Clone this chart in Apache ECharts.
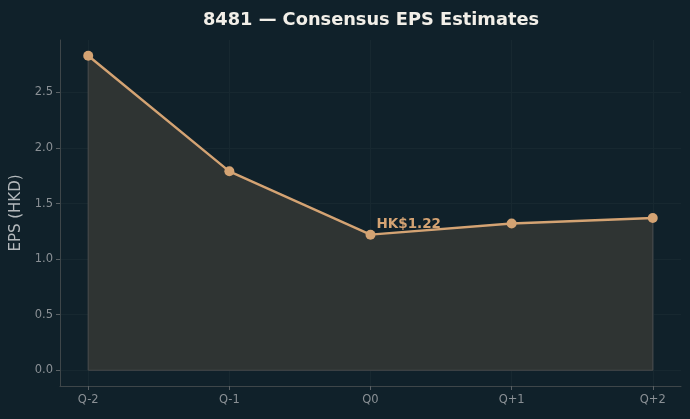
<!DOCTYPE html>
<html><head><meta charset="utf-8">
<script src="https://cdn.jsdelivr.net/npm/echarts@6/dist/echarts.min.js"></script>
<style>html,body{margin:0;padding:0;background:#10212a;}#c{width:690px;height:419px;}</style>
</head><body><div id="c"></div>
<script>
const categories = ['Q-2','Q-1','Q0','Q+1','Q+2'];
const eps = [2.83, 1.79, 1.22, 1.32, 1.37];
const yTicks = [0, 0.5, 1.0, 1.5, 2.0, 2.5];
const annotateIndex = 2;
const titleText = '8481 \u2014 Consensus EPS Estimates';
const yName = 'EPS (HKD)';

const xIdx = categories.map((c, i) => i);
const pts = eps.map((v, i) => [i, v]);
const outline = [[0, 0]].concat(pts).concat([[categories.length - 1, 0], [0, 0]]);
const yMax = Math.max(...eps);
const pad = yMax * 0.05;
const font = 'DejaVu Sans';

const chart = echarts.init(document.getElementById('c'), null, {renderer: 'canvas'});
chart.setOption({
  backgroundColor: '#10212a',
  animation: false,
  title: {
    text: titleText, left: 366, top: 6, textAlign: 'center',
    textStyle: {color: '#f2efe8', fontFamily: font, fontWeight: 'bold', fontSize: 17.8}
  },
  grid: {left: 60, right: 9, top: 40, bottom: 33},
  xAxis: {
    type: 'value', min: -0.2, max: categories.length - 1 + 0.2,
    axisLine: {show: true, onZero: false, lineStyle: {color: '#3e4649', width: 1}},
    axisTick: {show: true, customValues: xIdx, length: 4, lineStyle: {color: '#5a6165'}},
    axisLabel: {customValues: xIdx, formatter: v => categories[Math.round(v)], color: '#8a9095', fontFamily: font, fontSize: 11.5, margin: 8},
    splitLine: {show: true, customValues: xIdx, lineStyle: {color: '#172830', width: 1}}
  },
  yAxis: {
    type: 'value', min: -pad, max: yMax + pad,
    name: yName, nameLocation: 'middle', nameGap: 31,
    nameTextStyle: {color: '#b4b9bc', fontFamily: font, fontSize: 15},
    axisLine: {show: true, onZero: false, lineStyle: {color: '#3e4649', width: 1}},
    axisTick: {show: true, customValues: yTicks, length: 4, lineStyle: {color: '#5a6165'}},
    axisLabel: {customValues: yTicks, formatter: v => v.toFixed(1), color: '#8a9095', fontFamily: font, fontSize: 11.5, margin: 7},
    splitLine: {show: true, customValues: yTicks, lineStyle: {color: '#172830', width: 1}}
  },
  series: [
    {
      type: 'line', data: outline, symbol: 'none', silent: true,
      lineStyle: {color: '#45484a', width: 1.2},
      areaStyle: {color: '#2f3433', opacity: 1, origin: 0}, z: 1
    },
    {
      type: 'line', data: pts.map((p, i) => i === annotateIndex ? {
        value: p,
        label: {show: true, formatter: 'HK$' + eps[i].toFixed(2), position: [11, -12], color: '#d4a373', fontFamily: font, fontWeight: 'bold', fontSize: 13.5}
      } : p),
      symbol: 'circle', symbolSize: 10,
      itemStyle: {color: '#d4a373'},
      lineStyle: {color: '#d4a373', width: 2.4}, z: 3
    }
  ]
});
</script></body></html>
